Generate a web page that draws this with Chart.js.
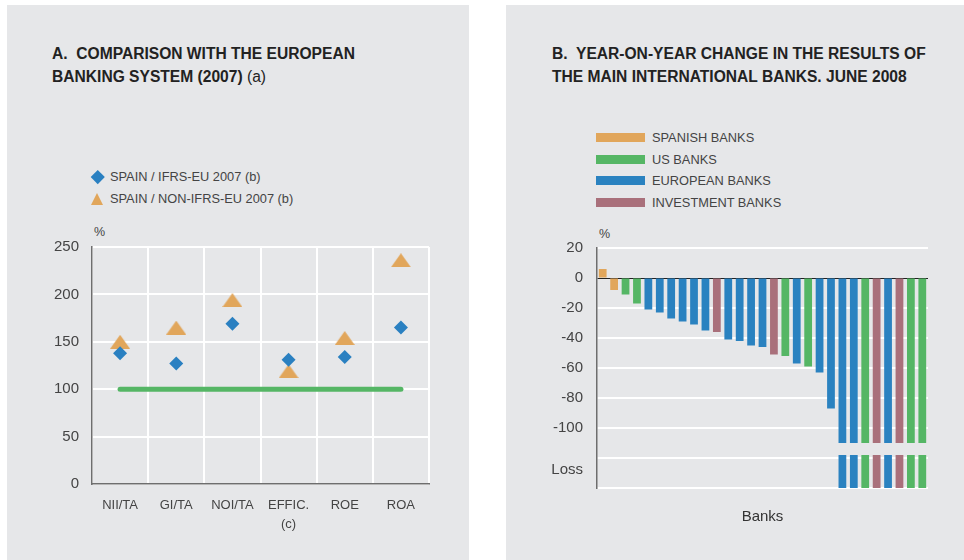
<!DOCTYPE html>
<html lang="en">
  <head>
    <meta charset="UTF-8" />
    <title>Spanish banks vs European banks</title>
    <script src="https://cdn.jsdelivr.net/npm/chart.js"></script>
    <style>
      body { margin: 0; width: 964px; height: 560px; background: #fff; overflow: hidden; position: relative;
        font-family: "Liberation Sans", Arial, Helvetica, sans-serif; color: #333; }
      .panel { position: absolute; top: 5px; height: 560px; background: #e6e7e9; }
      .title { position: absolute; top: 42px; font-size: 15.6px; font-weight: bold; line-height: 23px; color: #222; white-space: nowrap; }
      .title span { font-weight: normal; }
      .legend { position: absolute; font-size: 12.8px; color: #444; white-space: nowrap; }
      .legend div { position: relative; height: 22px; line-height: 22px; }
      .unit { position: absolute; font-size: 12.5px; color: #444; }
      .diamond { position: absolute; left: -17.5px; top: 6px; width: 9.5px; height: 9.5px; background: #2a80c1; transform: rotate(45deg); }
      .tri { position: absolute; left: -19px; top: 5px; width: 0; height: 0; border-left: 6.5px solid transparent; border-right: 6.5px solid transparent; border-bottom: 12px solid #e1a65b; }
      .swatch { position: absolute; left: -56px; top: 6px; width: 49px; height: 9px; }
      canvas { position: absolute; }
    </style>
  </head>
  <body>
    <div class="panel" style="left: 7px; width: 462px"></div>
    <div class="panel" style="left: 506px; width: 460px"></div>

    <div class="title" style="left: 52px">A.&nbsp; COMPARISON WITH THE EUROPEAN<br />BANKING SYSTEM (2007) <span>(a)</span></div>
    <div class="title" style="left: 552px">B.&nbsp; YEAR-ON-YEAR CHANGE IN THE RESULTS OF<br />THE MAIN INTERNATIONAL BANKS. JUNE 2008</div>

    <div class="legend" style="left: 110px; top: 166px">
      <div><i class="diamond"></i>SPAIN / IFRS-EU 2007 (b)</div>
      <div><i class="tri"></i>SPAIN / NON-IFRS-EU 2007 (b)</div>
    </div>
    <div class="legend" id="legend-b" style="left: 652px; top: 127px"></div>

    <div class="unit" style="left: 94px; top: 225px">%</div>
    <div class="unit" style="left: 599px; top: 227px">%</div>

    <canvas id="chart-a" width="410" height="315" style="left: 40px; top: 225px"></canvas>
    <canvas id="chart-b" width="410" height="305" style="left: 540px; top: 225px"></canvas>

    <script>
      // panel A: ratios of Spanish banks, European banking system = 100
      const ratioLabels = ["NII/TA", "GI/TA", "NOI/TA", ["EFFIC.", "(c)"], "ROE", "ROA"];
      const spainIfrs = [138, 127, 169, 131, 134, 165];
      const spainNonIfrs = [150, 165, 194, 119, 154, 236];
      const europeBase = [100, 100, 100, 100, 100, 100];

      // panel B: year-on-year change in results, June 2008
      const bankChanges = [6, -8, -11, -17, -21, -23, -27, -29, -31, -35, -36, -41, -42, -45, -46,
        -51, -52, -57, -59, -63, -87, "Loss", "Loss", "Loss", "Loss", "Loss", "Loss", "Loss", "Loss"];
      const bankGroups = ["ES", "ES", "US", "US", "EU", "EU", "EU", "EU", "EU", "EU", "IB", "EU", "EU", "EU", "EU",
        "IB", "US", "EU", "US", "EU", "EU", "EU", "EU", "US", "IB", "EU", "IB", "US", "US"];
      const groupNames = { ES: "SPANISH BANKS", US: "US BANKS", EU: "EUROPEAN BANKS", IB: "INVESTMENT BANKS" };
      const groupColors = { ES: "#e1a65b", US: "#55b665", EU: "#2a82c0", IB: "#a9707b" };
      const bankLabels = bankChanges.map((v, i) => "Bank " + (i + 1));

      // axis break used to show banks with losses
      const BREAK_TOP = -110, BREAK_BOTTOM = -118, AXIS_MIN = -140, LOSS_TICK = -128;
      const yTicksB = [20, 0, -20, -40, -60, -80, -100, -120, LOSS_TICK, -140];

      const tickFont = { family: "'Liberation Sans', Arial, sans-serif", size: 15 };
      const tickColor = "#444";

      // flattened triangle marker as in the original
      const triangle = document.createElement("canvas");
      triangle.width = 20;
      triangle.height = 14;
      const tctx = triangle.getContext("2d");
      tctx.fillStyle = "#e1a65b";
      tctx.beginPath();
      tctx.moveTo(10, 0);
      tctx.lineTo(20, 14);
      tctx.lineTo(0, 14);
      tctx.closePath();
      tctx.fill();

      new Chart(document.getElementById("chart-a"), {
        type: "line",
        data: {
          labels: ratioLabels,
          datasets: [
            {
              label: "SPAIN / IFRS-EU 2007 (b)",
              data: spainIfrs,
              showLine: false,
              pointStyle: "rectRot",
              pointRadius: 7,
              pointBackgroundColor: "#2a80c1",
              pointBorderWidth: 0,
            },
            {
              label: "SPAIN / NON-IFRS-EU 2007 (b)",
              data: spainNonIfrs,
              showLine: false,
              pointStyle: triangle,
              pointBorderWidth: 0,
            },
            {
              label: "EUROPEAN BANKING SYSTEM",
              data: europeBase,
              borderColor: "#55b665",
              borderWidth: 5,
              borderCapStyle: "round",
              pointRadius: 0,
            },
          ],
        },
        options: {
          responsive: false,
          devicePixelRatio: 1,
          animation: false,
          layout: { padding: { top: 20, right: 21, left: 0, bottom: 0 }, autoPadding: false },
          plugins: { legend: { display: false }, tooltip: { enabled: false } },
          scales: {
            x: {
              offset: true,
              grid: { offset: true, color: "#fff", lineWidth: 2, drawTicks: false },
              border: { color: "#6e6e6e", width: 1.5 },
              ticks: { color: tickColor, font: { size: 13, family: tickFont.family, lineHeight: 1.45 }, padding: 12, maxRotation: 0 },
              afterFit: (axis) => { axis.height = 56; },
            },
            y: {
              min: 0,
              max: 250,
              ticks: { stepSize: 50, color: tickColor, font: tickFont, padding: 13 },
              grid: { color: "#fff", lineWidth: 2, drawTicks: false },
              border: { color: "#6e6e6e", width: 1.5 },
              afterFit: (axis) => { axis.width = 52; },
            },
          },
        },
      });

      const mainBars = bankChanges.map((v) => (v === "Loss" ? BREAK_TOP : v));
      const lossBars = bankChanges.map((v) => (v === "Loss" ? [BREAK_BOTTOM, AXIS_MIN] : null));
      const barColors = bankGroups.map((g) => groupColors[g]);

      new Chart(document.getElementById("chart-b"), {
        type: "bar",
        data: {
          labels: bankLabels,
          datasets: [
            { data: mainBars, backgroundColor: barColors, grouped: false, barPercentage: 0.68, categoryPercentage: 1 },
            { data: lossBars, backgroundColor: barColors, grouped: false, barPercentage: 0.68, categoryPercentage: 1 },
          ],
        },
        options: {
          responsive: false,
          devicePixelRatio: 1,
          animation: false,
          layout: { padding: { top: 23, right: 22, left: 0, bottom: 4 }, autoPadding: false },
          plugins: { legend: { display: false }, tooltip: { enabled: false } },
          scales: {
            x: {
              grid: { display: false },
              border: { display: false },
              ticks: { display: false },
              title: { display: true, text: "Banks", color: "#333", font: tickFont, padding: 0 },
              afterFit: (axis) => { axis.height = 38; },
            },
            y: {
              min: AXIS_MIN,
              max: 20,
              afterBuildTicks: (axis) => { axis.ticks = yTicksB.map((v) => ({ value: v })); },
              ticks: {
                autoSkip: false,
                color: tickColor,
                font: tickFont,
                padding: 14,
                callback: (v) => (v === LOSS_TICK ? "Loss" : v >= -100 ? v : ""),
              },
              grid: {
                drawTicks: false,
                color: (c) => (c.tick.value === 0 ? "#222" : c.tick.value === LOSS_TICK ? "rgba(0,0,0,0)" : "#fff"),
                lineWidth: (c) => (c.tick.value === 0 ? 1 : 2),
              },
              border: { color: "#6e6e6e", width: 1.5 },
              afterFit: (axis) => { axis.width = 57; },
            },
          },
        },
      });

      // legend for panel B
      const legendB = document.getElementById("legend-b");
      ["ES", "US", "EU", "IB"].forEach((g) => {
        const row = document.createElement("div");
        row.innerHTML = '<i class="swatch" style="background:' + groupColors[g] + '"></i>' + groupNames[g];
        row.style.height = "21.7px";
        row.style.lineHeight = "21.7px";
        legendB.appendChild(row);
      });
    </script>
  </body>
</html>
